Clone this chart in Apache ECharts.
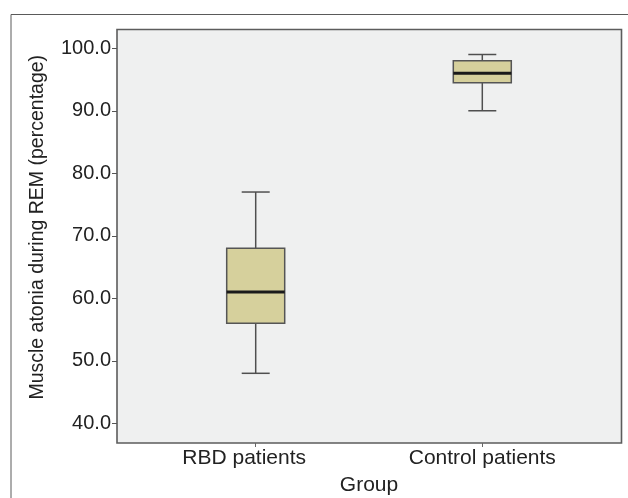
<!DOCTYPE html>
<html>
<head>
<meta charset="utf-8">
<script src="https://cdn.jsdelivr.net/npm/echarts@6/dist/echarts.min.js"></script>
<style>html,body{margin:0;padding:0;background:#fff}#c{width:628px;height:498px}</style>
</head>
<body>
<div id="c"></div>
<script>
const categories = ['RBD patients', 'Control patients'];
const mins = [48, 90];
const q1s = [56, 94.5];
const medians = [61, 96];
const q3s = [68, 98];
const maxs = [77, 99];
const yTicks = [40, 50, 60, 70, 80, 90, 100];

const data = categories.map((c, i) => [i, mins[i], q1s[i], medians[i], q3s[i], maxs[i]]);
const FONT = '"Liberation Sans", Arial, sans-serif';
const chart = echarts.init(document.getElementById('c'));
chart.setOption({
  backgroundColor: '#ffffff',
  animation: false,
  graphic: [{
    type: 'rect', z: -10, silent: true,
    shape: { x: 11, y: 14.5, width: 700, height: 600 },
    style: { fill: 'none', stroke: '#5a5a5a', lineWidth: 1 }
  }],
  grid: [
    { left: 142.4, right: 32.4, top: 29.5, bottom: 55, show: false, containLabel: false, outerBoundsMode: 'none' },
    { left: 117, right: 6.5, top: 29.5, bottom: 55, show: true, backgroundColor: '#eff0f0', borderColor: '#5c5c5c', borderWidth: 1.6, z: -5, containLabel: false, outerBoundsMode: 'none' }
  ],
  xAxis: [
    {
      type: 'category', gridIndex: 0, data: categories, boundaryGap: true,
      axisLine: { show: false },
      axisTick: { show: true, alignWithLabel: true, interval: 0, length: 4, lineStyle: { color: '#666', width: 1 } },
      axisLabel: { interval: 0, hideOverlap: false, fontSize: 21, color: '#222', fontFamily: FONT, margin: 5,
        formatter: (v, i) => i === 0 ? '{a|' + v + '}' : '{b|' + v + '}',
        rich: {
          a: { fontSize: 21, color: '#222', fontFamily: FONT, padding: [0, 23, 0, 0] },
          b: { fontSize: 21, color: '#222', fontFamily: FONT }
        }
      },
      name: 'Group', nameLocation: 'middle', nameGap: 32,
      nameTextStyle: { fontSize: 21, color: '#222', fontFamily: FONT }
    },
    { type: 'value', gridIndex: 1, show: false }
  ],
  yAxis: [
    {
      type: 'value', gridIndex: 0, min: 36.85, max: 103, offset: 25.4,
      axisLine: { show: false },
      splitLine: { show: false },
      axisTick: { show: true, length: 5, customValues: yTicks, lineStyle: { color: '#555', width: 1 } },
      axisLabel: { customValues: yTicks, fontSize: 20, color: '#222', fontFamily: FONT, margin: 6,
        formatter: v => Number(v).toFixed(1) },
      name: 'Muscle atonia during REM (percentage)', nameLocation: 'middle', nameGap: 69,
      nameTextStyle: { fontSize: 19.5, color: '#222', fontFamily: FONT, padding: [0, 0, 0, 18] }
    },
    { type: 'value', gridIndex: 1, show: false }
  ],
  series: [{
    type: 'custom',
    xAxisIndex: 0, yAxisIndex: 0,
    data: data,
    encode: { x: 0, y: [1, 2, 3, 4, 5] },
    renderItem: function (params, api) {
      const x = api.value(0);
      const pMin = api.coord([x, api.value(1)]);
      const pQ1 = api.coord([x, api.value(2)]);
      const pMed = api.coord([x, api.value(3)]);
      const pQ3 = api.coord([x, api.value(4)]);
      const pMax = api.coord([x, api.value(5)]);
      const cx = pMed[0];
      const hw = 29, cw = 14;
      const line = { stroke: '#4f4f4f', lineWidth: 1.5 };
      return {
        type: 'group',
        children: [
          { type: 'line', shape: { x1: cx, y1: pMax[1], x2: cx, y2: pQ3[1] }, style: line },
          { type: 'line', shape: { x1: cx, y1: pQ1[1], x2: cx, y2: pMin[1] }, style: line },
          { type: 'line', shape: { x1: cx - cw, y1: pMax[1], x2: cx + cw, y2: pMax[1] }, style: line },
          { type: 'line', shape: { x1: cx - cw, y1: pMin[1], x2: cx + cw, y2: pMin[1] }, style: line },
          { type: 'rect', shape: { x: cx - hw, y: pQ3[1], width: hw * 2, height: pQ1[1] - pQ3[1] },
            style: { fill: '#d6d09c', stroke: '#555', lineWidth: 1.5 } },
          { type: 'line', shape: { x1: cx - hw, y1: pMed[1], x2: cx + hw, y2: pMed[1] },
            style: { stroke: '#1a1a1a', lineWidth: 3 } }
        ]
      };
    }
  }]
});
</script>
</body>
</html>
